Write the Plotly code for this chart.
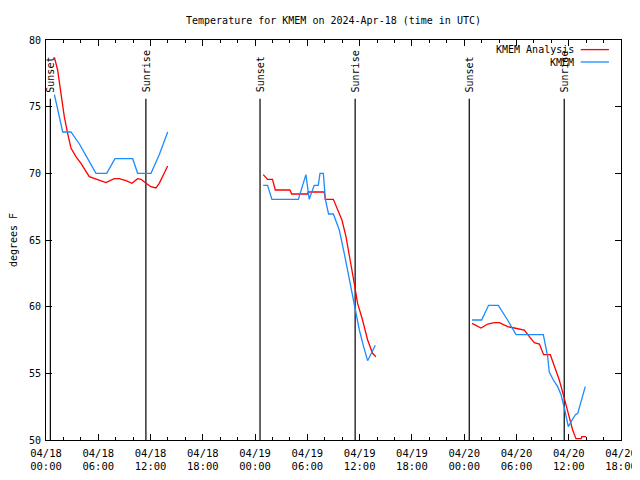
import plotly.graph_objects as go

# ---------------- data ----------------
analysis_day1_t = ["2024-04-18 00:58", "2024-04-18 01:20", "2024-04-18 01:43", "2024-04-18 02:06",
                   "2024-04-18 02:29", "2024-04-18 02:52", "2024-04-18 03:26", "2024-04-18 04:01",
                   "2024-04-18 04:58", "2024-04-18 05:56", "2024-04-18 06:53", "2024-04-18 07:50",
                   "2024-04-18 08:25", "2024-04-18 09:11", "2024-04-18 09:52", "2024-04-18 10:31",
                   "2024-04-18 10:54", "2024-04-18 11:29", "2024-04-18 12:03", "2024-04-18 12:37",
                   "2024-04-18 13:00", "2024-04-18 13:58"]
analysis_day1_v = [78.7, 77.75, 76.0, 74.25, 73.0, 71.9, 71.25, 70.75, 69.75, 69.5, 69.3, 69.6,
                   69.6, 69.45, 69.25, 69.6, 69.55, 69.25, 69.0, 68.9, 69.25, 70.55]

analysis_day2_t = ["2024-04-19 00:56", "2024-04-19 01:26", "2024-04-19 02:00", "2024-04-19 02:19",
                   "2024-04-19 04:00", "2024-04-19 04:12", "2024-04-19 06:02", "2024-04-19 06:06",
                   "2024-04-19 07:56", "2024-04-19 08:04", "2024-04-19 08:59", "2024-04-19 09:28",
                   "2024-04-19 09:58", "2024-04-19 10:26", "2024-04-19 10:56", "2024-04-19 11:23",
                   "2024-04-19 11:46", "2024-04-19 12:20", "2024-04-19 12:55", "2024-04-19 13:29",
                   "2024-04-19 13:52"]
analysis_day2_v = [69.9, 69.55, 69.55, 68.75, 68.75, 68.45, 68.45, 68.6, 68.6, 68.05, 68.05, 67.25,
                   66.5, 65.25, 63.5, 61.75, 60.25, 59.0, 57.5, 56.5, 56.25]

analysis_day3_t = ["2024-04-20 00:54", "2024-04-20 01:56", "2024-04-20 02:42", "2024-04-20 03:28",
                   "2024-04-20 04:02", "2024-04-20 05:00", "2024-04-20 05:46", "2024-04-20 06:20",
                   "2024-04-20 06:54", "2024-04-20 07:29", "2024-04-20 08:03", "2024-04-20 08:38",
                   "2024-04-20 09:07", "2024-04-20 09:53", "2024-04-20 10:21", "2024-04-20 10:55",
                   "2024-04-20 11:30", "2024-04-20 12:04", "2024-04-20 12:27", "2024-04-20 12:50",
                   "2024-04-20 13:25", "2024-04-20 13:30", "2024-04-20 13:59"]
analysis_day3_v = [58.75, 58.4, 58.7, 58.8, 58.8, 58.5, 58.4, 58.3, 58.25, 57.75, 57.3, 57.2,
                   56.4, 56.4, 55.6, 54.5, 53.1, 51.6, 50.75, 50.1, 50.1, 50.25, 50.25]

obs_day1_t = ["2024-04-18 00:58", "2024-04-18 01:55", "2024-04-18 02:52", "2024-04-18 03:50",
              "2024-04-18 04:47", "2024-04-18 05:44", "2024-04-18 06:58", "2024-04-18 07:55",
              "2024-04-18 09:57", "2024-04-18 10:31", "2024-04-18 12:03", "2024-04-18 13:00",
              "2024-04-18 13:58"]
obs_day1_v = [75.9, 73.1, 73.1, 72.2, 71.1, 70.0, 70.0, 71.1, 71.1, 70.0, 70.0, 71.4, 73.1]

obs_day2_t = ["2024-04-19 00:56", "2024-04-19 01:26", "2024-04-19 01:56", "2024-04-19 04:58",
              "2024-04-19 05:50", "2024-04-19 06:13", "2024-04-19 06:47", "2024-04-19 07:15",
              "2024-04-19 07:27", "2024-04-19 07:50", "2024-04-19 08:04", "2024-04-19 08:26",
              "2024-04-19 08:59", "2024-04-19 09:40", "2024-04-19 10:14", "2024-04-19 10:49",
              "2024-04-19 11:30", "2024-04-19 11:58", "2024-04-19 12:25", "2024-04-19 12:55",
              "2024-04-19 13:48"]
obs_day2_v = [69.1, 69.1, 68.05, 68.05, 69.9, 68.05, 69.1, 69.1, 70.0, 70.0, 68.05, 66.95,
              66.95, 65.75, 64.0, 62.0, 59.6, 58.25, 57.1, 55.95, 57.1]

obs_day3_t = ["2024-04-20 00:54", "2024-04-20 02:00", "2024-04-20 02:48", "2024-04-20 03:55",
              "2024-04-20 04:59", "2024-04-20 05:57", "2024-04-20 09:05", "2024-04-20 09:35",
              "2024-04-20 09:46", "2024-04-20 10:14", "2024-04-20 10:44", "2024-04-20 11:07",
              "2024-04-20 11:30", "2024-04-20 11:57", "2024-04-20 12:23", "2024-04-20 12:46",
              "2024-04-20 13:02", "2024-04-20 13:54"]
obs_day3_v = [59.0, 59.0, 60.1, 60.1, 59.0, 57.9, 57.9, 56.25, 55.1, 54.5, 54.0, 53.4,
              52.4, 51.0, 51.5, 51.9, 52.0, 54.0]

sun_event_times = ["2024-04-18 00:30", "2024-04-18 11:28", "2024-04-19 00:34",
                   "2024-04-19 11:29", "2024-04-20 00:35", "2024-04-20 11:29"]
sun_event_labels = ["Sunset", "Sunrise", "Sunset", "Sunrise", "Sunset", "Sunrise"]

x_tick_vals = ["2024-04-18 00:00", "2024-04-18 06:00", "2024-04-18 12:00", "2024-04-18 18:00",
               "2024-04-19 00:00", "2024-04-19 06:00", "2024-04-19 12:00", "2024-04-19 18:00",
               "2024-04-20 00:00", "2024-04-20 06:00", "2024-04-20 12:00", "2024-04-20 18:00"]
x_tick_text = ["04/18<br>00:00", "04/18<br>06:00", "04/18<br>12:00", "04/18<br>18:00",
               "04/19<br>00:00", "04/19<br>06:00", "04/19<br>12:00", "04/19<br>18:00",
               "04/20<br>00:00", "04/20<br>06:00", "04/20<br>12:00", "04/20<br>18:00"]
y_tick_vals = [50, 55, 60, 65, 70, 75, 80]

title_text = "Temperature for KMEM on 2024-Apr-18 (time in UTC)"
series_names = ["KMEM Analysis", "KMEM"]
series_colors = ["#ff0000", "#1a8cff"]


def join(*segs):
    out = []
    for i, s in enumerate(segs):
        if i:
            out.append(None)
        out.extend(s)
    return out


FONT = "DejaVu Sans Mono"
# the page adds an 8px body margin, so the figure is 8px smaller on each axis
FIG_W, FIG_H = 632, 472

fig = go.Figure()
fig.add_trace(go.Scatter(
    x=join(analysis_day1_t, analysis_day2_t, analysis_day3_t),
    y=join(analysis_day1_v, analysis_day2_v, analysis_day3_v),
    mode="lines", name=series_names[0], connectgaps=False,
    line=dict(color=series_colors[0], width=1.3)))
fig.add_trace(go.Scatter(
    x=join(obs_day1_t, obs_day2_t, obs_day3_t),
    y=join(obs_day1_v, obs_day2_v, obs_day3_v),
    mode="lines", name=series_names[1], connectgaps=False,
    line=dict(color=series_colors[1], width=1.3)))

for t, lab in zip(sun_event_times, sun_event_labels):
    fig.add_shape(type="line", xref="x", yref="y", x0=t, x1=t, y0=50, y1=75.6,
                  line=dict(color="black", width=1.2), layer="below")
    fig.add_annotation(x=t, y=76.0, xref="x", yref="y", text=lab, textangle=-90,
                       showarrow=False, xanchor="center", yanchor="bottom",
                       borderpad=0,
                       font=dict(family=FONT, size=10, color="black"))

# manual legend (text on the left, sample on the right, like the original)
leg_rows = [0.976, 0.945]
for name, col, yy in zip(series_names, series_colors, leg_rows):
    fig.add_annotation(x=0.922, y=yy, xref="paper", yref="paper", text=name,
                       showarrow=False, xanchor="right", yanchor="middle",
                       font=dict(family=FONT, size=10, color="black"))
    fig.add_shape(type="line", xref="paper", yref="paper", x0=0.930, x1=0.979,
                  y0=yy, y1=yy, line=dict(color=col, width=1.3))

fig.update_layout(
    width=FIG_W, height=FIG_H,
    margin=dict(l=38, r=19, t=32, b=40, autoexpand=False),
    paper_bgcolor="white", plot_bgcolor="white",
    showlegend=False,
    font=dict(family=FONT, size=10, color="black"),
    title=dict(text=title_text, x=0.5, xref="paper", xanchor="center",
               y=1 - 12 / FIG_H, yref="container", yanchor="middle",
               font=dict(family=FONT, size=10, color="black")),
    xaxis=dict(type="date", range=["2024-04-18 00:00", "2024-04-20 18:00"],
               tickmode="array", tickvals=x_tick_vals, ticktext=x_tick_text,
               ticks="inside", ticklen=6, tickcolor="black", tickwidth=1,
               showline=True, linecolor="black", linewidth=1, mirror="ticks",
               showgrid=False, zeroline=False, automargin=False,
               ticklabelstandoff=3,
               minor=dict(dtick=2 * 3600 * 1000, tick0="2024-04-18 00:00",
                          ticks="inside", ticklen=3, tickcolor="black", showgrid=False),
               tickfont=dict(family=FONT, size=10.5)),
    yaxis=dict(range=[50, 80], tickmode="array", tickvals=y_tick_vals,
               ticks="inside", ticklen=6, tickcolor="black", tickwidth=1,
               showline=True, linecolor="black", linewidth=1, mirror="ticks",
               showgrid=False, zeroline=False, automargin=False,
               ticklabelstandoff=2,
               title=dict(text="degrees F", standoff=14, font=dict(family=FONT, size=10)),
               tickfont=dict(family=FONT, size=10)),
)

fig.write_html("out.html")
